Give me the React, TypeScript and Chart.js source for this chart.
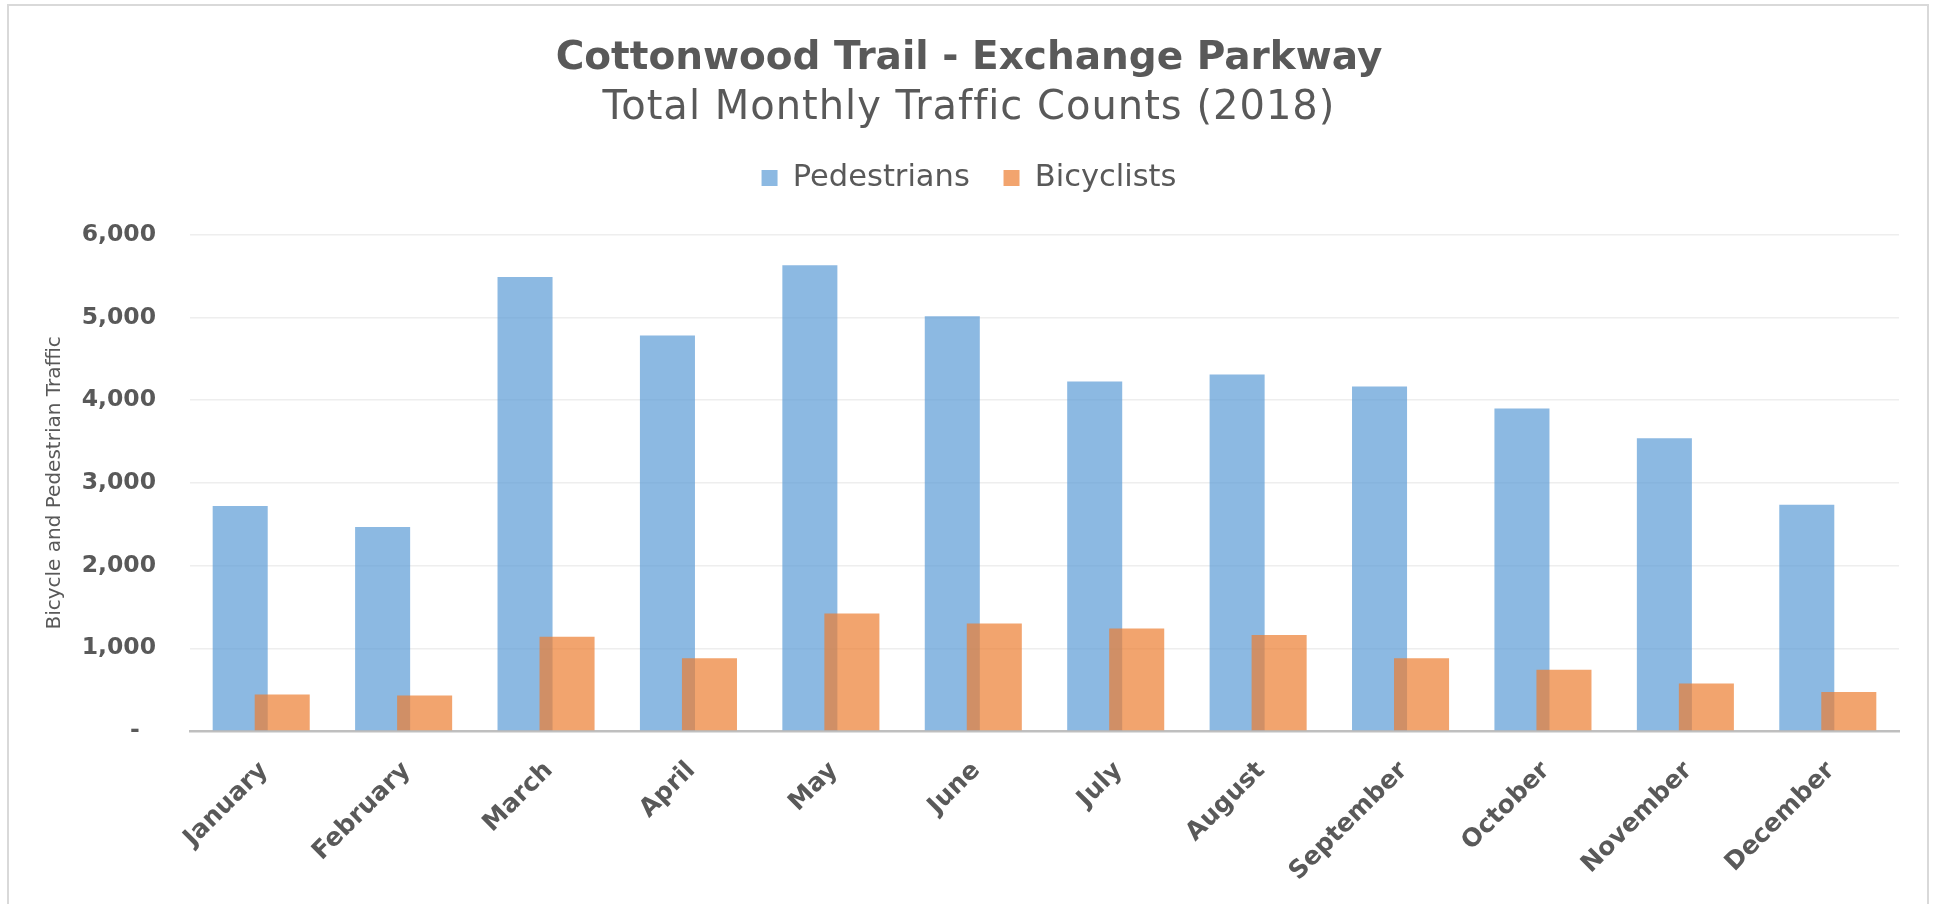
import React, { useEffect, useRef } from 'react';
import { Chart, registerables } from 'chart.js';

Chart.register(...registerables);

const months = ['January', 'February', 'March', 'April', 'May', 'June', 'July', 'August', 'September', 'October', 'November', 'December'];
const pedestrians = [2720, 2465, 5490, 4780, 5630, 5015, 4225, 4310, 4165, 3900, 3540, 2735];
const bicyclists = [440, 430, 1140, 880, 1420, 1300, 1240, 1160, 880, 740, 575, 470];

const chartTitle = 'Cottonwood Trail - Exchange Parkway';
const chartSubtitle = 'Total Monthly Traffic Counts (2018)';
const yAxisTitle = 'Bicycle and Pedestrian Traffic';

const FONT = "'DejaVu Sans', sans-serif";
const TEXT = '#595959';

// Extra gap between the legend and the plot area
const legendSpacer = {
  id: 'legendSpacer',
  beforeLayout(chart: any) {
    const lg = chart.legend;
    if (lg && !lg.__patched) {
      const orig = lg.fit;
      lg.fit = function () {
        orig.call(this);
        this.height += 31.45;
      };
      lg.__patched = true;
    }
  },
};

// Letter spacing for the subtitle (the original face is wide)
const spacing = {
  id: 'spacing',
  beforeDraw(chart: any) {
    (chart.boxes || []).forEach((b: any) => {
      if (b.__ls || !b.options) return;
      let ls = '';
      if (b.options.text === chartSubtitle) ls = '1px';
      if (!ls) return;
      const d = b.draw;
      b.draw = function (...a: any[]) {
        const ctx = this.ctx;
        const prev = ctx.letterSpacing;
        ctx.letterSpacing = ls;
        d.apply(this, a);
        ctx.letterSpacing = prev || '0px';
      };
      b.__ls = true;
    });
  },
};

// Draw the bicyclists over the pedestrians, as in the original
const drawOrder = {
  id: 'drawOrder',
  beforeDatasetDraw(chart: any, args: any) {
    if (args.index === 1 && !chart.__top) return false;
    return true;
  },
  afterDatasetsDraw(chart: any) {
    chart.__top = true;
    chart._drawDataset(chart.getDatasetMeta(1));
    chart.__top = false;
  },
};

export default function App() {
  const ref = useRef<HTMLCanvasElement>(null);
  useEffect(() => {
    if (!ref.current) return;
    const chart = new Chart(ref.current, {
      type: 'bar',
      data: {
        labels: months,
        datasets: [
          {
            label: 'Pedestrians',
            data: pedestrians,
            backgroundColor: 'rgba(91,155,213,0.7)',
            borderWidth: 0,
            categoryPercentage: 0.59,
            barPercentage: 1.31,
          },
          {
            label: 'Bicyclists',
            data: bicyclists,
            backgroundColor: 'rgba(237,125,49,0.7)',
            borderWidth: 0,
            categoryPercentage: 0.59,
            barPercentage: 1.31,
          },
        ],
      },
      options: {
        responsive: false,
        animation: false,
        layout: { padding: { top: 0, left: 39, right: 38, bottom: 0 } },
        plugins: {
          title: {
            display: true,
            text: chartTitle,
            color: TEXT,
            font: { family: FONT, size: 39, weight: 'bold', lineHeight: 1.2 },
            padding: { top: 35, bottom: 0 },
          },
          subtitle: {
            display: true,
            text: chartSubtitle,
            color: TEXT,
            font: { family: FONT, size: 40, weight: 'normal', lineHeight: 1.0 },
            padding: { top: 7.2, bottom: 0 },
          },
          legend: {
            display: true,
            position: 'top',
            labels: {
              color: TEXT,
              font: { family: FONT, size: 30.5 },
              boxWidth: 16,
              boxHeight: 16,
              padding: 33.75,
            },
          },
          tooltip: { enabled: false },
        },
        scales: {
          x: {
            grid: { display: false, drawTicks: false },
            border: { display: true, color: '#BFBFBF', width: 2.5 },
            ticks: {
              color: TEXT,
              font: { family: FONT, size: 25, weight: 'bold' },
              minRotation: 45,
              maxRotation: 45,
              autoSkip: false,
              padding: 25,
              labelOffset: 3,
            },
            afterFit: (s: any) => {
              s.height = 173;
            },
          },
          y: {
            min: 0,
            max: 6000,
            ticks: {
              stepSize: 1000,
              color: TEXT,
              font: { family: FONT, size: 23.5, weight: 'bold' },
              padding: 34,
              callback: (v: any) => (Number(v) === 0 ? '-  ' : Number(v).toLocaleString('en-US')),
            },
            grid: { color: '#EEEEEE', lineWidth: 1.5, drawTicks: false },
            border: { display: false },
            title: {
              display: true,
              text: yAxisTitle,
              color: TEXT,
              font: { family: FONT, size: 20, weight: 'normal' },
              padding: { top: 4, bottom: 18 },
            },
            afterFit: (s: any) => {
              s.width = 151;
            },
          },
        },
      },
      plugins: [legendSpacer, spacing, drawOrder],
    } as any);
    return () => chart.destroy();
  }, []);

  return (
    <div style={{ position: 'fixed', left: 0, top: 0, width: 1937, height: 904, overflow: 'hidden', background: '#fff' }}>
      <div
        style={{
          position: 'absolute',
          left: 7,
          top: 4,
          width: 1922,
          height: 920,
          boxSizing: 'border-box',
          borderTop: '2px solid #D9D9D9',
          borderLeft: '2px solid #D9D9D9',
          borderRight: '2px solid #D9D9D9',
        }}
      />
      <canvas ref={ref} width={1937} height={904} style={{ position: 'absolute', left: 0, top: 0, width: 1937, height: 904 }} />
    </div>
  );
}
